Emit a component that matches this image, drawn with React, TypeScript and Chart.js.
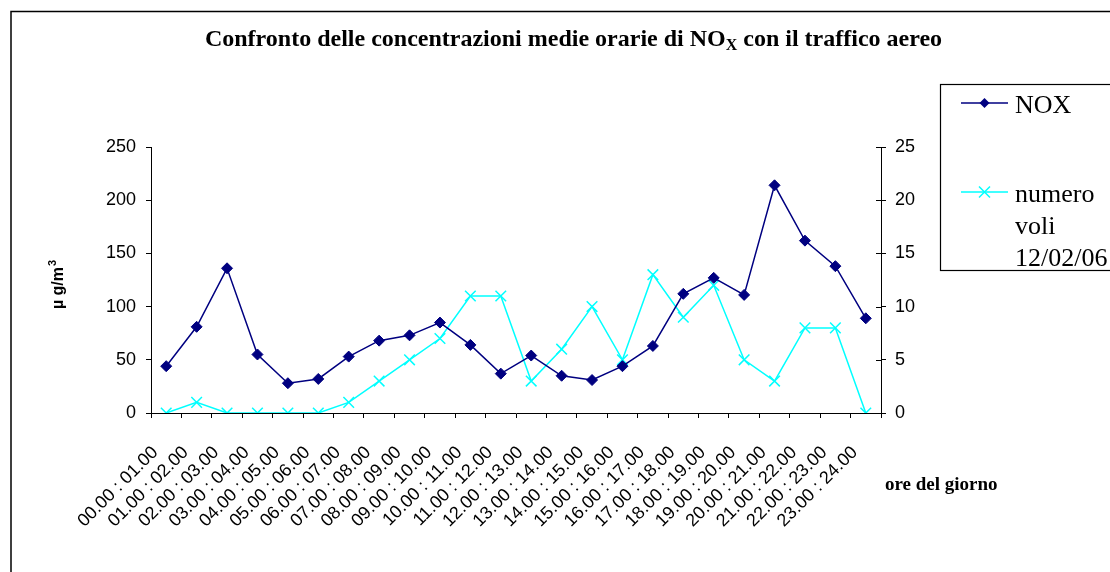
import React, { useEffect, useRef } from "react";
import { Chart, registerables } from "chart.js";

Chart.register(...registerables);

const hours = [
  "00.00 : 01.00", "01.00 : 02.00", "02.00 : 03.00", "03.00 : 04.00",
  "04.00 : 05.00", "05.00 : 06.00", "06.00 : 07.00", "07.00 : 08.00",
  "08.00 : 09.00", "09.00 : 10.00", "10.00 : 11.00", "11.00 : 12.00",
  "12.00 : 13.00", "13.00 : 14.00", "14.00 : 15.00", "15.00 : 16.00",
  "16.00 : 17.00", "17.00 : 18.00", "18.00 : 19.00", "19.00 : 20.00",
  "20.00 : 21.00", "21.00 : 22.00", "22.00 : 23.00", "23.00 : 24.00",
];
const noxValues = [44, 81, 136, 55, 28, 32, 53, 68, 73, 85, 64, 37, 54, 35, 31, 44, 63, 112, 127, 111, 214, 162, 138, 89];
const flightValues = [0, 1, 0, 0, 0, 0, 1, 3, 5, 7, 11, 11, 3, 6, 10, 5, 13, 9, 12, 5, 3, 8, 8, 0];
const leftTicks = [0, 50, 100, 150, 200, 250];
const rightTicks = [0, 5, 10, 15, 20, 25];
const noxLabel = "NOX";
const flightLabel = "numero voli 12/02/06";
const titleParts = ["Confronto delle concentrazioni medie orarie di NO", "X", " con il traffico aereo"];
const yTitleMain = "\u00b5 g/m";
const yTitleSup = "3";
const xTitle = "ore del giorno";

const NAVY = "#000080";
const CYAN = "#00FFFF";
const SANS = "'Liberation Sans', Arial, sans-serif";
const SERIF = "'Liberation Serif', 'Times New Roman', serif";

const decorations = {
  id: "decorations",
  afterDraw(chart: any) {
    const ctx = chart.ctx as CanvasRenderingContext2D;
    ctx.save();
    // outer frame
    ctx.strokeStyle = "#000";
    ctx.lineWidth = 1.5;
    ctx.strokeRect(11, 11.5, 1300, 1300);

    // title with subscript
    ctx.fillStyle = "#000";
    ctx.textBaseline = "alphabetic";
    ctx.textAlign = "left";
    const bigFont = `bold 24px ${SERIF}`;
    const smallFont = `bold 16px ${SERIF}`;
    ctx.font = bigFont;
    const w0 = ctx.measureText(titleParts[0]).width;
    const w2 = ctx.measureText(titleParts[2]).width;
    ctx.font = smallFont;
    const w1 = ctx.measureText(titleParts[1]).width;
    const total = w0 + w1 + w2;
    let tx = 573.5 - total / 2;
    const ty = 46;
    ctx.font = bigFont;
    ctx.fillText(titleParts[0], tx, ty);
    tx += w0;
    ctx.font = smallFont;
    ctx.fillText(titleParts[1], tx, ty + 4);
    tx += w1;
    ctx.font = bigFont;
    ctx.fillText(titleParts[2], tx, ty);

    // y axis title (rotated)
    ctx.save();
    ctx.translate(63, 285);
    ctx.rotate(-Math.PI / 2);
    ctx.font = `bold 16px ${SANS}`;
    const ym = ctx.measureText(yTitleMain).width;
    ctx.font = `bold 11px ${SANS}`;
    const ys = ctx.measureText(yTitleSup).width;
    const ystart = -(ym + ys) / 2;
    ctx.font = `bold 16px ${SANS}`;
    ctx.fillText(yTitleMain, ystart, 0);
    ctx.font = `bold 11px ${SANS}`;
    ctx.fillText(yTitleSup, ystart + ym + 1, -7);
    ctx.restore();

    // x axis title
    ctx.font = `bold 19px ${SERIF}`;
    ctx.textAlign = "left";
    ctx.fillText(xTitle, 885, 490);

    // right axis inner tick halves
    const y1 = chart.scales.y1;
    ctx.strokeStyle = "#000";
    ctx.lineWidth = 1;
    rightTicks.forEach((v) => {
      const py = Math.round(y1.getPixelForValue(v)) + 0.5;
      ctx.beginPath();
      ctx.moveTo(chart.chartArea.right - 5, py);
      ctx.lineTo(chart.chartArea.right, py);
      ctx.stroke();
    });

    // legend
    const bx = 940.5, by = 84.5, bb = 270.5;
    ctx.fillStyle = "#fff";
    ctx.fillRect(bx, by, 1200 - bx, bb - by);
    ctx.strokeStyle = "#000";
    ctx.lineWidth = 1.2;
    ctx.strokeRect(bx, by, 1300, bb - by);
    const ds = chart.data.datasets;
    const entries = [
      { y: 103, textY: 113, d: ds[0] },
      { y: 192, textY: 202, d: ds[1] },
    ];
    ctx.font = `26px ${SERIF}`;
    entries.forEach((e) => {
      ctx.strokeStyle = e.d.borderColor;
      ctx.lineWidth = 1.5;
      ctx.beginPath();
      ctx.moveTo(961, e.y);
      ctx.lineTo(1008, e.y);
      ctx.stroke();
      const cx = 984.5;
      if (e.d.pointStyle === "rectRot") {
        const r = 5;
        ctx.fillStyle = e.d.pointBackgroundColor;
        ctx.beginPath();
        ctx.moveTo(cx, e.y - r);
        ctx.lineTo(cx + r, e.y);
        ctx.lineTo(cx, e.y + r);
        ctx.lineTo(cx - r, e.y);
        ctx.closePath();
        ctx.fill();
      } else {
        const r = 5.5;
        ctx.beginPath();
        ctx.moveTo(cx - r, e.y - r);
        ctx.lineTo(cx + r, e.y + r);
        ctx.moveTo(cx + r, e.y - r);
        ctx.lineTo(cx - r, e.y + r);
        ctx.stroke();
      }
      ctx.fillStyle = "#000";
      const words = String(e.d.label).split(" ");
      const lines: string[] = [];
      let cur = "";
      words.forEach((w) => {
        const test = cur ? cur + " " + w : w;
        if (ctx.measureText(test).width > 95 && cur) {
          lines.push(cur);
          cur = w;
        } else cur = test;
      });
      if (cur) lines.push(cur);
      lines.forEach((l, i) => ctx.fillText(l, 1015, e.textY + i * 32));
    });
    ctx.restore();
  },
};

export default function App() {
  const ref = useRef<HTMLCanvasElement>(null);
  useEffect(() => {
    if (!ref.current) return;
    const chart = new Chart(ref.current, {
      type: "line",
      data: {
        labels: hours,
        datasets: [
          {
            label: noxLabel,
            data: noxValues,
            yAxisID: "y",
            borderColor: NAVY,
            backgroundColor: NAVY,
            pointBackgroundColor: NAVY,
            pointBorderColor: NAVY,
            pointStyle: "rectRot",
            pointRadius: 5.5,
            pointBorderWidth: 1,
            borderWidth: 1.5,
            tension: 0,
          },
          {
            label: flightLabel,
            data: flightValues,
            yAxisID: "y1",
            borderColor: CYAN,
            backgroundColor: CYAN,
            pointBackgroundColor: CYAN,
            pointBorderColor: CYAN,
            pointStyle: "crossRot",
            pointRadius: 7.5,
            pointBorderWidth: 1.5,
            borderWidth: 1.5,
            tension: 0,
          },
        ],
      },
      options: {
        animation: false,
        responsive: false,
        devicePixelRatio: 1,
        layout: { padding: { top: 147, left: 0, right: 0, bottom: 0 } },
        plugins: { legend: { display: false }, title: { display: false }, tooltip: { enabled: false } },
        scales: {
          x: {
            type: "category",
            offset: true,
            grid: { offset: true, drawOnChartArea: false, drawTicks: true, tickLength: 5, color: "#000" },
            border: { display: true, color: "#000", width: 1 },
            ticks: {
              autoSkip: false,
              maxRotation: 45,
              minRotation: 45,
              padding: 24,
              labelOffset: -11,
              color: "#000",
              font: { family: SANS, size: 18 },
            },
            afterFit: (s: any) => { s.height = 159; },
          },
          y: {
            position: "left",
            min: 0,
            max: 250,
            grid: { drawOnChartArea: false, drawTicks: true, tickLength: 5, color: "#000" },
            border: { display: true, color: "#000", width: 1 },
            ticks: { padding: 10, color: "#000", font: { family: SANS, size: 18 } },
            afterBuildTicks: (s: any) => { s.ticks = leftTicks.map((v) => ({ value: v })); },
            afterFit: (s: any) => { s.width = 151; },
          },
          y1: {
            position: "right",
            min: 0,
            max: 25,
            grid: { drawOnChartArea: false, drawTicks: true, tickLength: 5, color: "#000" },
            border: { display: true, color: "#000", width: 1 },
            ticks: { padding: 9, color: "#000", font: { family: SANS, size: 18 } },
            afterBuildTicks: (s: any) => { s.ticks = rightTicks.map((v) => ({ value: v })); },
            afterFit: (s: any) => { s.width = 229; },
          },
        },
      } as any,
      plugins: [decorations],
    });
    return () => chart.destroy();
  }, []);
  return (
    <div style={{ position: "absolute", left: 0, top: 0, width: 1110, height: 572, background: "#fff" }}>
      <canvas ref={ref} width={1110} height={572} style={{ display: "block" }} />
    </div>
  );
}
